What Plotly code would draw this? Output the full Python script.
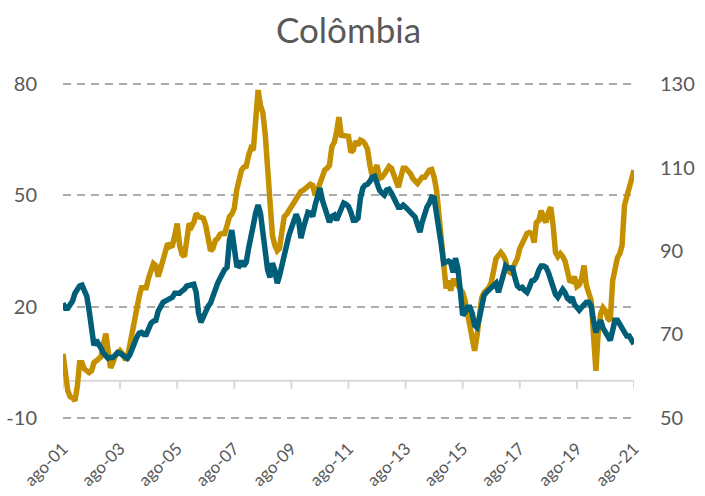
import pandas as pd
import plotly.graph_objects as go

# Monthly series, ago-01 .. ago-21
months = pd.date_range("2001-08-01", "2021-08-01", freq="MS")

gold_left = [
    7.3, 1.4, -2.7, -4.3, -4.6, -5.4, -1.4, 4.9, 4.9, 3.2, 2.7, 2.2,
    2.7, 4.9, 5.4, 6.0, 6.5, 10.0, 12.7, 8.1, 3.5, 4.9, 6.8, 7.3,
    8.1, 7.3, 6.0, 6.0, 9.5, 12.2, 15.7, 18.4, 22.7, 25.1, 25.1, 25.1,
    27.8, 30.3, 31.6, 31.1, 28.1, 30.3, 32.4, 35.1, 37.0, 36.2, 36.5, 39.2,
    42.4, 36.5, 34.1, 33.5, 37.8, 42.4, 41.6, 42.7, 45.1, 44.3, 44.1, 43.8,
    41.9, 39.2, 35.1, 35.7, 37.8, 38.4, 39.5, 39.7, 39.7, 41.9, 44.3, 44.9,
    46.5, 51.4, 54.6, 56.8, 57.6, 57.8, 60.8, 62.7, 62.2, 68.9, 78.4, 74.3,
    72.2, 66.2, 58.1, 45.1, 39.2, 36.5, 35.1, 35.7, 41.1, 44.3, 44.9, 45.9,
    46.8, 47.8, 49.2, 50.5, 51.1, 51.4, 51.9, 52.2, 53.0, 52.7, 50.0, 51.4,
    53.5, 54.6, 56.8, 57.3, 58.1, 63.2, 64.3, 67.0, 71.1, 66.2, 66.2, 66.2,
    65.9, 61.6, 62.2, 64.6, 63.5, 64.9, 64.6, 63.8, 62.4, 58.1, 55.1, 56.8,
    58.1, 54.6, 54.9, 55.7, 56.8, 57.8, 57.3, 55.4, 53.2, 52.2, 54.9, 57.3,
    57.3, 56.8, 55.9, 54.6, 53.8, 53.2, 54.1, 54.9, 54.9, 55.7, 56.8, 57.0,
    54.9, 51.4, 44.6, 35.1, 29.2, 24.9, 27.0, 24.3, 27.0, 27.0, 25.7, 24.9,
    23.8, 21.6, 18.4, 14.9, 10.8, 8.1, 12.2, 17.6, 22.4, 23.8, 24.3, 25.1,
    26.5, 31.1, 33.0, 33.8, 34.6, 33.8, 32.4, 29.7, 29.2, 30.3, 31.4, 33.0,
    35.7, 37.0, 38.6, 39.7, 40.0, 39.7, 37.3, 42.7, 43.2, 45.9, 43.8, 42.7,
    45.4, 46.8, 41.9, 34.6, 33.5, 34.3, 33.5, 32.4, 29.7, 27.0, 26.8, 28.1,
    25.4, 25.9, 27.6, 31.1, 25.7, 23.5, 21.6, 12.2, 2.7, 13.5, 18.1, 19.7,
    18.9, 16.8, 16.2, 27.0, 30.3, 33.2, 34.3, 36.5, 47.3, 50.0, 52.4, 55.4,
    56.8,
]

teal_right = [
    77.5, 76.3, 76.3, 77.2, 78.0, 79.9, 80.8, 81.6, 81.8, 80.6, 79.2, 75.8,
    71.0, 67.4, 68.6, 67.9, 66.7, 65.5, 64.8, 64.3, 64.5, 64.5, 65.0, 65.7,
    65.5, 65.0, 64.5, 64.3, 65.0, 66.2, 67.9, 69.3, 70.3, 70.5, 70.0, 70.0,
    71.5, 72.7, 73.2, 73.4, 75.6, 77.0, 77.7, 78.0, 78.2, 78.4, 78.9, 79.9,
    79.9, 79.9, 80.4, 80.8, 81.6, 81.8, 82.0, 82.0, 80.1, 75.1, 72.9, 74.4,
    75.8, 76.8, 77.5, 79.4, 81.1, 82.3, 83.5, 84.9, 85.6, 86.1, 92.6, 95.0,
    91.4, 86.6, 86.4, 87.6, 86.4, 87.3, 90.7, 94.3, 96.2, 99.1, 101.0, 99.1,
    95.0, 89.0, 85.4, 83.7, 87.1, 85.4, 82.3, 84.0, 86.8, 89.5, 92.1, 93.8,
    95.5, 97.4, 98.8, 97.4, 93.1, 95.5, 97.4, 99.3, 99.1, 98.3, 101.0, 103.1,
    105.1, 102.2, 100.3, 98.8, 96.9, 98.3, 98.6, 97.4, 99.1, 100.3, 101.5, 101.2,
    100.7, 99.3, 97.4, 97.4, 97.9, 102.7, 105.1, 105.8, 106.0, 106.7, 107.7, 107.9,
    106.0, 104.6, 103.9, 103.4, 104.6, 104.8, 103.9, 102.9, 101.9, 100.5, 100.5, 101.0,
    100.5, 100.0, 99.3, 98.6, 98.1, 96.2, 94.5, 96.9, 99.3, 100.5, 101.5, 102.9,
    102.7, 99.3, 95.5, 91.4, 87.1, 87.3, 87.6, 87.3, 84.9, 88.3, 85.9, 80.6,
    74.6, 75.3, 76.5, 76.5, 75.1, 72.2, 71.7, 73.9, 77.7, 79.4, 80.1, 80.6,
    81.3, 82.0, 82.3, 80.1, 81.8, 84.2, 86.4, 85.9, 85.9, 85.9, 83.5, 81.6,
    81.1, 81.3, 80.6, 80.1, 81.3, 82.8, 83.0, 83.7, 85.4, 86.4, 86.4, 86.1,
    84.9, 83.0, 81.3, 79.6, 78.9, 80.1, 80.8, 80.1, 78.7, 78.2, 78.9, 77.2,
    76.3, 75.8, 76.5, 77.2, 77.7, 77.7, 76.8, 73.4, 70.5, 72.0, 73.4, 71.5,
    70.5, 69.8, 68.6, 71.0, 73.4, 73.4, 72.4, 71.5, 70.0, 69.6, 69.6, 68.9,
    67.7,
]

tick_dates = pd.date_range("2001-08-01", "2021-08-01", freq="24MS")
tick_labels = ["ago-01", "ago-03", "ago-05", "ago-07", "ago-09", "ago-11",
               "ago-13", "ago-15", "ago-17", "ago-19", "ago-21"]

left_ticks = [-10, 20, 50, 80]
right_ticks = [50, 70, 90, 110, 130]

GOLD = "#C49000"
TEAL = "#005E78"
TEXT = "#595959"
AXIS = "#D9D9D9"
FONT = "Lato, 'Open Sans', sans-serif"

# a hair of padding so the outer dashed gridlines are kept
pad_l = 0.3
pad_r = pad_l * (130 - 50) / (80 - (-10))

fig = go.Figure()

# category axis line crossing at zero, with its tick marks hanging below
fig.add_shape(type="line", xref="x", yref="y", x0=months[0], x1=months[-1],
              y0=0, y1=0, line=dict(color=AXIS, width=2), layer="below")
for d in tick_dates:
    fig.add_shape(type="line", xref="x", yref="y", x0=d, x1=d,
                  ysizemode="pixel", yanchor=0, y0=0, y1=-8,
                  line=dict(color=AXIS, width=2), layer="below")

fig.add_trace(go.Scatter(x=months, y=gold_left, mode="lines",
                         line=dict(color=GOLD, width=5.5), yaxis="y",
                         showlegend=False, hoverinfo="skip"))
fig.add_trace(go.Scatter(x=months, y=teal_right, mode="lines",
                         line=dict(color=TEAL, width=5.5), yaxis="y2",
                         showlegend=False, hoverinfo="skip"))

fig.update_layout(
    width=705, height=496,
    margin=dict(l=62.5, r=70.6, t=83, b=77),
    paper_bgcolor="white", plot_bgcolor="white",
    font=dict(family=FONT, color=TEXT),
    title=dict(text="Colômbia", x=0.5, xref="paper", xanchor="center",
               y=1 - 31 / 496, yref="container", yanchor="middle",
               font=dict(size=35, color=TEXT, family=FONT)),
    xaxis=dict(
        range=[months[0], months[-1]], automargin=False,
        tickvals=tick_dates, ticktext=tick_labels, tickangle=-45,
        ticks="outside", ticklen=12, tickcolor="rgba(0,0,0,0)",
        tickfont=dict(size=17, color=TEXT),
        showgrid=False, zeroline=False, showline=False,
    ),
    yaxis=dict(
        range=[-10 - pad_l, 80 + pad_l], automargin=False,
        tickvals=left_ticks, ticktext=[str(v) for v in left_ticks],
        ticks="outside", ticklen=21, tickcolor="rgba(0,0,0,0)",
        tickfont=dict(size=20, color=TEXT),
        showgrid=True, gridcolor="#ABABAB", gridwidth=2, griddash="8px,6px",
        zeroline=False, showline=False,
    ),
    yaxis2=dict(
        range=[50 - pad_r, 130 + pad_r], automargin=False,
        tickvals=right_ticks, overlaying="y", side="right",
        ticks="outside", ticklen=21, tickcolor="rgba(0,0,0,0)",
        tickfont=dict(size=20, color=TEXT),
        showgrid=False, zeroline=False, showline=False,
    ),
)

fig.write_html("out.html")
